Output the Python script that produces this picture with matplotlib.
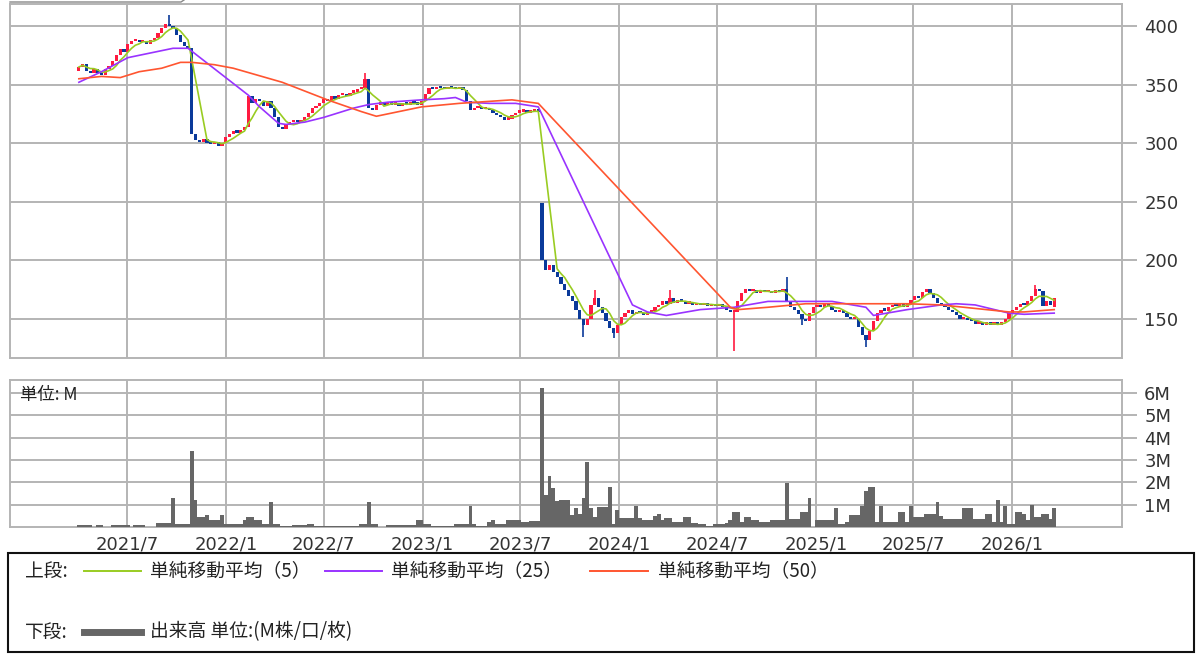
import numpy as np
import pandas as pd
import matplotlib
matplotlib.use('Agg')
import matplotlib.pyplot as plt
import matplotlib.dates as mdates
from matplotlib.lines import Line2D
from matplotlib.patches import Rectangle

plt.rcParams['font.family'] = ['DejaVu Sans', 'Noto Sans CJK JP']

# weekly candles, first week ending 2021-04-02
first_week = '2021-04-02'

closes = [
    365, 368, 362, 360, 363, 360, 358, 363, 366, 370,
    375, 380, 378, 385, 387, 388, 386, 387, 385, 388,
    390, 394, 398, 402, 400, 398, 392, 386, 383, 381,
    308, 303, 301, 304, 300, 299, 301, 298, 300, 305,
    308, 310, 309, 311, 314, 340, 334, 338, 336, 332,
    336, 330, 322, 314, 312, 316, 318, 319, 318, 320,
    322, 326, 330, 332, 334, 338, 336, 340, 338, 341,
    342, 340, 343, 344, 346, 347, 355, 330, 328, 333,
    334, 333, 335, 333, 334, 332, 334, 333, 335, 334,
    333, 336, 342, 347, 346, 348, 347, 346, 348, 347,
    346, 348, 345, 336, 328, 330, 331, 329, 330, 328,
    326, 324, 322, 320, 321, 324, 326, 327, 328, 326,
    327, 328, 327, 200, 192, 196, 190, 186, 180, 175,
    170, 165, 158, 150, 145, 150, 162, 168, 160, 155,
    148, 142, 138, 145, 152, 155, 158, 154, 156, 155,
    153, 156, 157, 160, 162, 165, 163, 168, 164, 166,
    165, 163, 164, 162, 163, 162, 164, 161, 162, 161,
    163, 160, 158, 156, 156, 165, 172, 176, 174, 175,
    172, 174, 173, 174, 172, 175, 173, 176, 165, 160,
    158, 154, 150, 148, 155, 160, 162, 160, 163, 161,
    158, 156, 158, 155, 152, 150, 150, 143, 136, 132,
    140, 148, 155, 158, 157, 160, 162, 161, 163, 160,
    163, 166, 170, 168, 173, 176, 172, 168, 164, 162,
    160, 158, 156, 153, 150, 151, 149, 148, 146, 147,
    145, 146, 145, 146, 145, 147, 150, 155, 158, 160,
    163, 162, 165, 170, 176, 174, 161, 165, 162, 168,
]
# opens that do not follow the previous close
open_gaps = {0: 362, 123: 249, 259: 160}
# visible shadows (week index: price)
high_wicks = {24: 409, 76: 360, 137: 175, 157: 175, 188: 186, 254: 179}
low_wicks = {134: 135, 142: 134, 174: 123, 192: 145, 209: 126}

volumes = [
    0.08, 0.08, 0.08, 0.08, 0.02, 0.08, 0.08, 0.02, 0.02, 0.08,
    0.08, 0.08, 0.08, 0.08, 0.02, 0.08, 0.08, 0.08, 0.02, 0.02,
    0.02, 0.18, 0.18, 0.18, 0.18, 1.3, 0.15, 0.15, 0.15, 0.15,
    3.4, 1.2, 0.45, 0.45, 0.53, 0.3, 0.3, 0.3, 0.53, 0.15,
    0.15, 0.15, 0.15, 0.15, 0.3, 0.45, 0.45, 0.33, 0.33, 0.15,
    0.15, 1.1, 0.12, 0.12, 0.03, 0.03, 0.03, 0.08, 0.08, 0.08,
    0.08, 0.15, 0.15, 0.05, 0.05, 0.05, 0.05, 0.05, 0.05, 0.05,
    0.05, 0.05, 0.05, 0.05, 0.05, 0.15, 0.15, 1.1, 0.12, 0.12,
    0.02, 0.02, 0.08, 0.08, 0.08, 0.08, 0.08, 0.08, 0.08, 0.08,
    0.33, 0.33, 0.15, 0.15, 0.05, 0.05, 0.05, 0.05, 0.05, 0.05,
    0.15, 0.15, 0.15, 0.15, 0.95, 0.15, 0.05, 0.05, 0.05, 0.23,
    0.33, 0.12, 0.12, 0.12, 0.3, 0.3, 0.3, 0.3, 0.23, 0.23,
    0.26, 0.26, 0.26, 6.2, 1.45, 2.3, 1.75, 1.15, 1.2, 1.2,
    1.2, 0.55, 0.85, 0.6, 1.3, 2.9, 0.85, 0.45, 0.9, 0.9,
    0.9, 1.8, 0.15, 0.75, 0.42, 0.42, 0.42, 0.42, 0.95, 0.42,
    0.3, 0.3, 0.3, 0.5, 0.58, 0.3, 0.4, 0.4, 0.23, 0.23,
    0.23, 0.45, 0.45, 0.18, 0.18, 0.12, 0.12, 0.06, 0.06, 0.15,
    0.15, 0.15, 0.18, 0.3, 0.68, 0.68, 0.23, 0.45, 0.45, 0.3,
    0.3, 0.23, 0.23, 0.23, 0.3, 0.3, 0.3, 0.3, 1.95, 0.38,
    0.38, 0.38, 0.68, 0.68, 1.3, 0.02, 0.3, 0.3, 0.3, 0.3,
    0.3, 0.85, 0.15, 0.15, 0.23, 0.53, 0.53, 0.53, 0.95, 1.6,
    1.8, 1.8, 0.23, 0.95, 0.23, 0.23, 0.23, 0.23, 0.68, 0.68,
    0.23, 0.95, 0.45, 0.45, 0.45, 0.6, 0.6, 0.6, 1.1, 0.5,
    0.38, 0.38, 0.38, 0.38, 0.38, 0.85, 0.85, 0.85, 0.38, 0.38,
    0.38, 0.6, 0.6, 0.23, 1.2, 0.23, 0.95, 0.15, 0.15, 0.68,
    0.68, 0.6, 0.3, 1.0, 0.45, 0.45, 0.58, 0.58, 0.38, 0.85,
]

# moving averages restart after these weeks
ma_resets = [30, 123]

ma25_idx = [0, 6, 13, 19, 25, 29, 45, 48, 53, 55, 60, 65, 70, 73, 77, 82, 91, 97,
            100, 103, 109, 116, 122, 147, 151, 156, 165, 174, 183, 192, 200, 209,
            211, 220, 229, 233, 238, 247, 251, 259]
ma25_val = [352, 361, 373, 377, 381, 381, 341, 331, 317, 316, 318, 322, 327, 330, 333, 335, 337, 338,
            339, 335, 334, 334, 331, 162, 156, 153, 158, 160, 165, 165, 165, 160,
            153, 158, 162, 163, 162, 155, 154, 155]

ma50_idx = [0, 6, 11, 16, 22, 27, 30, 36, 41, 54, 66, 75, 79, 85, 91, 101, 115, 122,
            173, 175, 183, 193, 210, 220, 229, 238, 247, 251, 259]
ma50_val = [355, 357, 356, 361, 364, 369, 369, 367, 364, 352, 337, 327, 323, 327, 331, 334, 337, 334,
            160, 158, 160, 163, 163, 163, 162, 159, 156, 156, 158]

tick_dates = ['2021-07-01', '2022-01-01', '2022-07-01', '2023-01-01', '2023-07-01',
              '2024-01-01', '2024-07-01', '2025-01-01', '2025-07-01', '2026-01-01']
tick_labels = ['2021/7', '2022/1', '2022/7', '2023/1', '2023/7',
               '2024/1', '2024/7', '2025/1', '2025/7', '2026/1']
price_ticks = [150, 200, 250, 300, 350, 400]
vol_ticks = [1, 2, 3, 4, 5, 6]
vol_tick_labels = ['1M', '2M', '3M', '4M', '5M', '6M']

legend_names = ['単純移動平均（5）', '単純移動平均（25）', '単純移動平均（50）']
ma_colors = ['#99cc22', '#9933ff', '#ff5530']

# ---------------------------------------------------------------
dates = pd.date_range(first_week, periods=len(closes), freq='W-FRI')
xd = mdates.date2num(dates)

opens = [open_gaps.get(0, closes[0])] + [open_gaps.get(i, closes[i - 1]) for i in range(1, len(closes))]
highs = [max(o, c, high_wicks.get(i, 0)) for i, (o, c) in enumerate(zip(opens, closes))]
lows = [min(o, c, low_wicks.get(i, 1e9)) for i, (o, c) in enumerate(zip(opens, closes))]

s = pd.Series(closes, index=dates, dtype=float)
bounds = [0] + ma_resets + [len(closes)]
ma5 = pd.concat([s.iloc[a:b].rolling(5, min_periods=1 if a == 0 else 5).mean()
                 for a, b in zip(bounds[:-1], bounds[1:])])

fig = plt.figure(figsize=(12, 6.57), dpi=100)
ax = fig.add_axes([10 / 1200, 1 - 358 / 657, 1112 / 1200, 354 / 657])
axv = fig.add_axes([10 / 1200, 1 - 527 / 657, 1112 / 1200, 147 / 657])

grid_c = '#b4b4b4'
xmin = mdates.date2num(pd.Timestamp('2020-11-25'))
xmax = mdates.date2num(pd.Timestamp('2026-07-24'))
tick_x = mdates.date2num(pd.to_datetime(tick_dates))

for a in (ax, axv):
    a.set_xlim(xmin, xmax)
    a.set_xticks(tick_x)
    a.grid(True, color=grid_c, lw=1.4, zorder=0)
    a.set_axisbelow(True)
    for sp in a.spines.values():
        sp.set_color(grid_c)
        sp.set_linewidth(1.4)
    a.yaxis.tick_right()
    a.tick_params(axis='y', length=11, width=1.4, color=grid_c, pad=5,
                  labelsize=13, labelcolor='#333333')

# candles
up_c, dn_c = '#ff1a40', '#0a3a9a'
cols = [up_c if c >= o else dn_c for o, c in zip(opens, closes)]
ax.vlines(xd, lows, highs, colors=cols, lw=1.2, zorder=3)
body_lo = [min(o, c) for o, c in zip(opens, closes)]
body_h = [max(abs(c - o), 2.0) for o, c in zip(opens, closes)]
ax.bar(xd, body_h, bottom=body_lo, width=6, color=cols, lw=0, zorder=3)

# moving averages
ma5_ok = ma5.dropna()
ax.plot(mdates.date2num(ma5_ok.index), ma5_ok.values, color=ma_colors[0], lw=1.2, zorder=4)
ax.plot(xd[ma25_idx], ma25_val, color=ma_colors[1], lw=1.2, zorder=4)
ax.plot(xd[ma50_idx], ma50_val, color=ma_colors[2], lw=1.2, zorder=4)

ax.set_ylim(116.7, 418.8)
ax.set_yticks(price_ticks)
ax.tick_params(axis='x', length=0, labelbottom=False)

# volume
axv.bar(xd, volumes, width=7, color='#666666', lw=0, zorder=3)
axv.set_ylim(0, 6.58)
axv.set_yticks(vol_ticks)
axv.set_yticklabels(vol_tick_labels)
axv.set_xticklabels(tick_labels)
axv.tick_params(axis='x', length=0, pad=6, labelsize=13, labelcolor='#333333')
axv.text(0.009, 0.9, '単位: M', transform=axv.transAxes, fontsize=12.5,
         color='#222222', va='center', ha='left',
         family=['Noto Sans CJK JP', 'DejaVu Sans'])

# legend panel
fig.patches.append(Rectangle((8 / 1200, 1 - 652 / 657), 1186 / 1200, 99 / 657,
                             transform=fig.transFigure, fill=False,
                             edgecolor='#111111', lw=1.5))
jp = ['Noto Sans CJK JP', 'DejaVu Sans']
row1, row2 = 1 - 571 / 657, 1 - 632 / 657
fig.text(25 / 1200, row1, '上段:', fontsize=13.5, va='center', family=jp, color='#222222')
fig.text(25 / 1200, row2, '下段:', fontsize=13.5, va='center', family=jp, color='#222222')
for (x0, x1, xt), name, c in zip([(84, 141, 150), (325, 382, 391), (590, 648, 658)],
                                 legend_names, ma_colors):
    fig.add_artist(Line2D([x0 / 1200, x1 / 1200], [row1, row1], color=c, lw=1.4,
                          transform=fig.transFigure))
    fig.text(xt / 1200, row1, name, fontsize=13.5, va='center', family=jp, color='#222222')
fig.add_artist(Line2D([84 / 1200, 141 / 1200], [row2, row2], color='#666666', lw=5,
                      transform=fig.transFigure))
fig.text(150 / 1200, row2, '出来高 単位:(M株/口/枚)', fontsize=13.5, va='center',
         family=jp, color='#222222')

# tab edge at top
fig.add_artist(Line2D([10 / 1200, 181 / 1200, 184 / 1200], [1 - 2 / 657, 1 - 2 / 657, 1.0],
                      color='#888888', lw=1, transform=fig.transFigure))

fig.savefig('out.png', dpi=100)
